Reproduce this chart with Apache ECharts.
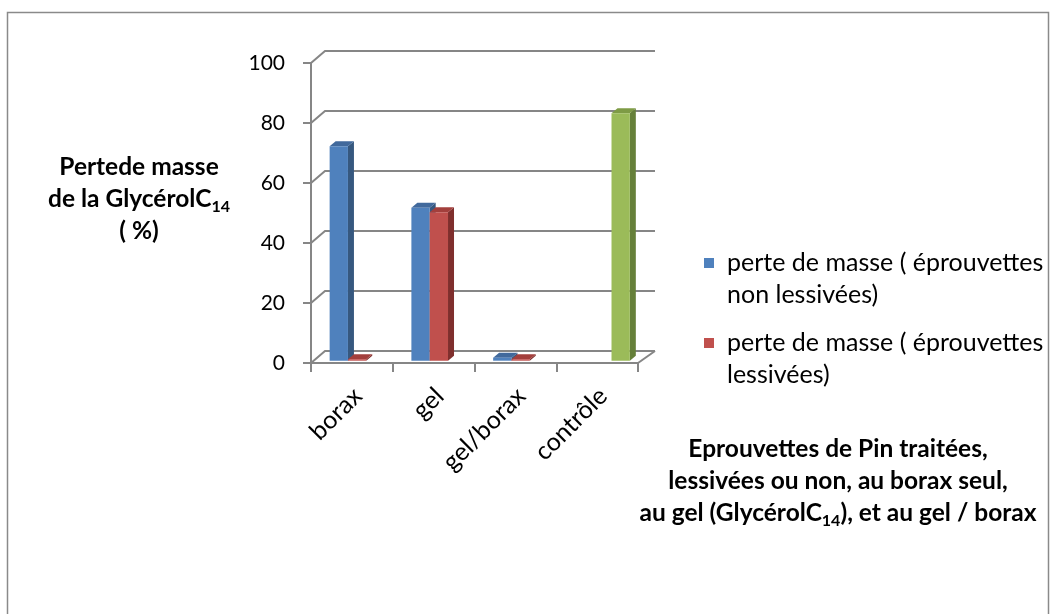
<!DOCTYPE html>
<html>
<head>
<meta charset="utf-8">
<script src="https://cdn.jsdelivr.net/npm/echarts@6/dist/echarts.min.js"></script>
<style>
html,body{margin:0;padding:0;background:#fff;}
#chart{width:1056px;height:614px;}
</style>
</head>
<body>
<div id="chart"></div>
<script>
// ---- data ----
const categories = ['borax', 'gel', 'gel/borax', 'contrôle'];
const nonLessivees = [71.5, 51, 1, null];
const lessivees = [0.5, 49.5, 0.5, null];
const controle = [null, null, null, 82.5];
const yTicks = [0, 20, 40, 60, 80, 100];
const seriesNames = ['perte de masse ( éprouvettes non lessivées)', 'perte de masse ( éprouvettes lessivées)', 'contrôle'];
const legendLines = [['perte de masse ( éprouvettes', 'non lessivées)'], ['perte de masse ( éprouvettes', 'lessivées)']];

const FONT = 'Lato';
const AXIS_GRAY = '#868686';
const faces = [
  {front: '#4F81BD', top: '#41699C', side: '#36587F'},
  {front: '#C0504D', top: '#A33F3C', side: '#7F2F2D'},
  {front: '#9BBB59', top: '#7E9B45', side: '#66803A'}
];
const DEPTH_X = 14, DEPTH_Y = -12;   // wall depth
const BAR_DX = 6, BAR_DY = -5;       // bar depth

function barSeries(idx, values) {
  return {
    name: seriesNames[idx],
    type: 'custom',
    itemStyle: {color: faces[idx].front},
    data: values.map((v, i) => v == null ? null : [i, v]).filter(d => d),
    encode: {x: 0, y: 1},
    renderItem: function (params, api) {
      const i = api.value(0), v = api.value(1);
      const base = api.coord([i, 0]);
      const topP = api.coord([i, v]);
      const bw = api.size([1, 0])[0];
      const w = bw * 0.224;
      const x0 = base[0] - bw / 2 + bw * (0.228 + idx * 0.224);
      const yb = base[1] - 2.3;
      const yt = topP[1] - 2.3;
      const f = faces[idx];
      return {
        type: 'group',
        children: [
          {type: 'polygon', shape: {points: [[x0 + w, yt], [x0 + w + BAR_DX, yt + BAR_DY], [x0 + w + BAR_DX, yb + BAR_DY], [x0 + w, yb]]}, style: {fill: f.side}},
          {type: 'polygon', shape: {points: [[x0, yt], [x0 + BAR_DX, yt + BAR_DY], [x0 + w + BAR_DX, yt + BAR_DY], [x0 + w, yt]]}, style: {fill: f.top}},
          {type: 'rect', shape: {x: x0, y: yt, width: w, height: yb - yt}, style: {fill: f.front}}
        ]
      };
    }
  };
}

const wallSeries = {
  name: 'wall',
  type: 'custom',
  silent: true,
  data: yTicks.map(v => [0, v]),
  encode: {x: 0, y: 1},
  renderItem: function (params, api) {
    const v = api.value(1);
    const y = api.coord([0, v])[1];
    const left = params.coordSys.x;
    const right = params.coordSys.x + params.coordSys.width;
    const children = [{
      type: 'polyline',
      shape: {points: [[left, y], [left + DEPTH_X, y + DEPTH_Y], [right + DEPTH_X + 3, y + DEPTH_Y]]},
      style: {stroke: AXIS_GRAY, lineWidth: 2, fill: null}
    }];
    if (v === 0) {
      children.push({
        type: 'line',
        shape: {x1: right, y1: y, x2: right + DEPTH_X + 3, y2: y + DEPTH_Y},
        style: {stroke: AXIS_GRAY, lineWidth: 2}
      });
    }
    return {type: 'group', children: children};
  }
};

const boldRich = {
  b: {fontFamily: FONT, fontWeight: 'bold', fontSize: 24.5, lineHeight: 32, color: '#000'},
  s: {fontFamily: FONT, fontWeight: 'bold', fontSize: 16, lineHeight: 18, verticalAlign: 'bottom', color: '#000'}
};

const chart = echarts.init(document.getElementById('chart'), null, {renderer: 'canvas'});
chart.setOption({
  animation: false,
  backgroundColor: '#fff',
  grid: {left: 311, top: 63, width: 327, height: 300},
  xAxis: {
    type: 'category',
    data: categories,
    axisLine: {show: true, lineStyle: {color: AXIS_GRAY, width: 2}},
    axisTick: {show: true, length: 9, interval: 0, lineStyle: {color: AXIS_GRAY, width: 2}},
    axisLabel: {rotate: 45, interval: 0, margin: 23, verticalAlign: 'top', lineHeight: 17, color: '#000', fontFamily: FONT, fontSize: 25}
  },
  yAxis: {
    type: 'value',
    min: 0, max: 100, interval: 20,
    axisLine: {show: true, lineStyle: {color: AXIS_GRAY, width: 2}},
    axisTick: {show: true, length: 8, lineStyle: {color: AXIS_GRAY, width: 2}},
    splitLine: {show: false},
    axisLabel: {margin: 26, color: '#000', fontFamily: FONT, fontSize: 21}
  },
  legend: {
    orient: 'vertical',
    left: 704,
    top: 215,
    padding: 0,
    itemGap: -16,
    itemWidth: 10,
    itemHeight: 10,
    icon: 'rect',
    data: [seriesNames[0], seriesNames[1]],
    formatter: function (name) {
      const l = legendLines[seriesNames.indexOf(name)];
      return '{a| }\n{a|' + l[0] + '}\n{a|' + l[1] + '}';
    },
    textStyle: {
      fontFamily: FONT, fontSize: 25, lineHeight: 32, color: '#000',
      rich: {a: {fontFamily: FONT, fontSize: 25, lineHeight: 32, color: '#000', padding: [0, 0, 0, 8]}}
    }
  },
  graphic: [
    {type: 'rect', silent: true, shape: {x: 7.5, y: 12.5, width: 1041, height: 700},
      style: {fill: null, stroke: '#8a8a8a', lineWidth: 1.5}},
    {type: 'text', x: 139, y: 151,
      style: {text: '{b|Pertede masse}\n{b|de la GlycérolC}{s|14}\n{b|( %)}', rich: boldRich, align: 'center', verticalAlign: 'top'}},
    {type: 'text', x: 838, y: 433,
      style: {text: '{b|Eprouvettes de Pin traitées,}\n{b|lessivées ou non, au borax seul,}\n{b|au gel (GlycérolC}{s|14}{b|), et au gel / borax}', rich: boldRich, align: 'center', verticalAlign: 'top'}}
  ],
  series: [
    wallSeries,
    barSeries(0, nonLessivees),
    barSeries(1, lessivees),
    barSeries(2, controle)
  ]
});
</script>
</body>
</html>
